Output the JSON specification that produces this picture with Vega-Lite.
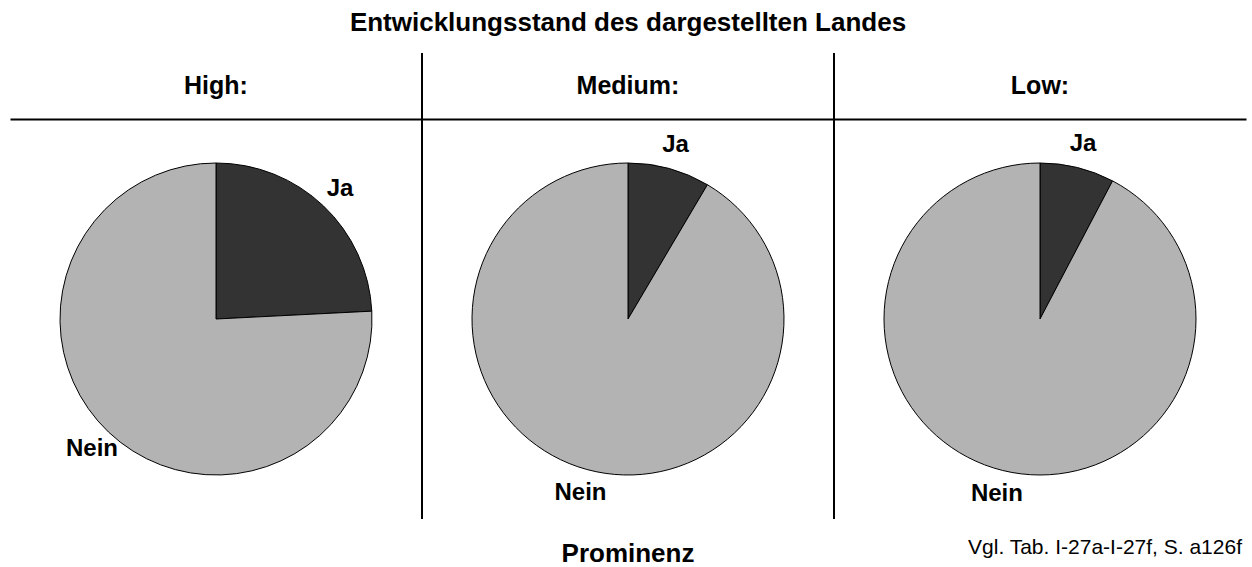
{
  "$schema": "https://vega.github.io/schema/vega-lite/v6.json",
  "padding": {"left": 10, "top": 10, "right": 6, "bottom": 0},
  "background": "white",
  "config": {"font": "Liberation Sans", "view": {"stroke": null}},
  "title": {"text": "Entwicklungsstand des dargestellten Landes", "fontSize": 26, "fontWeight": "bold", "anchor": "middle", "offset": 16, "color": "black"},
  "datasets": {
    "pies": [
      {"level": "High", "answer": "Ja", "pct": 24.2},
      {"level": "High", "answer": "Nein", "pct": 75.8},
      {"level": "Medium", "answer": "Ja", "pct": 8.5},
      {"level": "Medium", "answer": "Nein", "pct": 91.5},
      {"level": "Low", "answer": "Ja", "pct": 7.7},
      {"level": "Low", "answer": "Nein", "pct": 92.3}
    ],
    "levels": [
      {"level": "High", "header": "High:"},
      {"level": "Medium", "header": "Medium:"},
      {"level": "Low", "header": "Low:"}
    ]
  },
  "spacing": 0,
  "bounds": "flush",
  "vconcat": [
    {
      "width": 1236,
      "height": 66,
      "data": {"name": "levels"},
      "layer": [
        {
          "mark": {"type": "rule", "strokeWidth": 2, "color": "black"},
          "transform": [{"filter": "datum.level !== 'High'"}],
          "encoding": {
            "x": {"field": "level", "type": "nominal", "bandPosition": 0,
              "scale": {"domain": ["High", "Medium", "Low"], "paddingInner": 0, "paddingOuter": 0},
              "axis": {"orient": "bottom", "domain": true, "domainColor": "black", "domainWidth": 2, "labels": false, "ticks": false, "title": null, "grid": false}}
          }
        },
        {
          "mark": {"type": "text", "fontSize": 25, "fontWeight": "bold", "color": "black", "baseline": "middle", "align": "center"},
          "encoding": {
            "x": {"field": "level", "type": "nominal",
              "scale": {"domain": ["High", "Medium", "Low"], "paddingInner": 0, "paddingOuter": 0},
              "axis": {"orient": "bottom", "domain": true, "domainColor": "black", "domainWidth": 2, "labels": false, "ticks": false, "title": null, "grid": false}},
            "text": {"field": "header"}
          }
        }
      ]
    },
    {
      "data": {"name": "pies"},
      "facet": {
        "column": {"field": "level", "type": "nominal", "sort": ["High", "Medium", "Low"], "title": "Prominenz",
          "header": {"labels": false, "titleOrient": "bottom", "titleFontSize": 26, "titleFontWeight": "bold", "titleColor": "black", "titlePadding": 12}}
      },
      "spacing": 0,
      "bounds": "flush",
      "title": {"text": "Vgl. Tab. I-27a-I-27f, S. a126f", "orient": "bottom", "anchor": "end", "fontSize": 21, "fontWeight": "normal", "offset": -30, "dx": -4, "color": "black"},
      "resolve": {"scale": {"x": "independent"}},
      "spec": {
        "width": 412,
        "height": 400,
        "layer": [
          {
            "mark": {"type": "rule", "strokeWidth": 2, "color": "black"},
            "transform": [{"filter": "datum.level !== 'High' && datum.answer === 'Ja'"}],
            "encoding": {
              "x": {"field": "level", "type": "nominal", "bandPosition": 0, "scale": {"paddingInner": 0, "paddingOuter": 0}, "axis": null}
            }
          },
          {
            "mark": {"type": "arc", "outerRadius": 156, "stroke": "black", "strokeWidth": 1},
            "encoding": {
              "theta": {"field": "pct", "type": "quantitative", "stack": "normalize"},
              "color": {"field": "answer", "type": "nominal", "scale": {"domain": ["Ja", "Nein"], "range": ["#333333", "#b3b3b3"]}, "legend": null},
              "order": {"field": "answer", "type": "ordinal"}
            }
          },
          {
            "mark": {"type": "text", "radius": 180, "fontSize": 24, "fontWeight": "bold", "color": "black"},
            "encoding": {
              "theta": {"field": "pct", "type": "quantitative", "stack": "normalize"},
              "detail": {"field": "answer"},
              "order": {"field": "answer", "type": "ordinal"},
              "text": {"field": "answer"}
            }
          }
        ]
      }
    }
  ]
}
